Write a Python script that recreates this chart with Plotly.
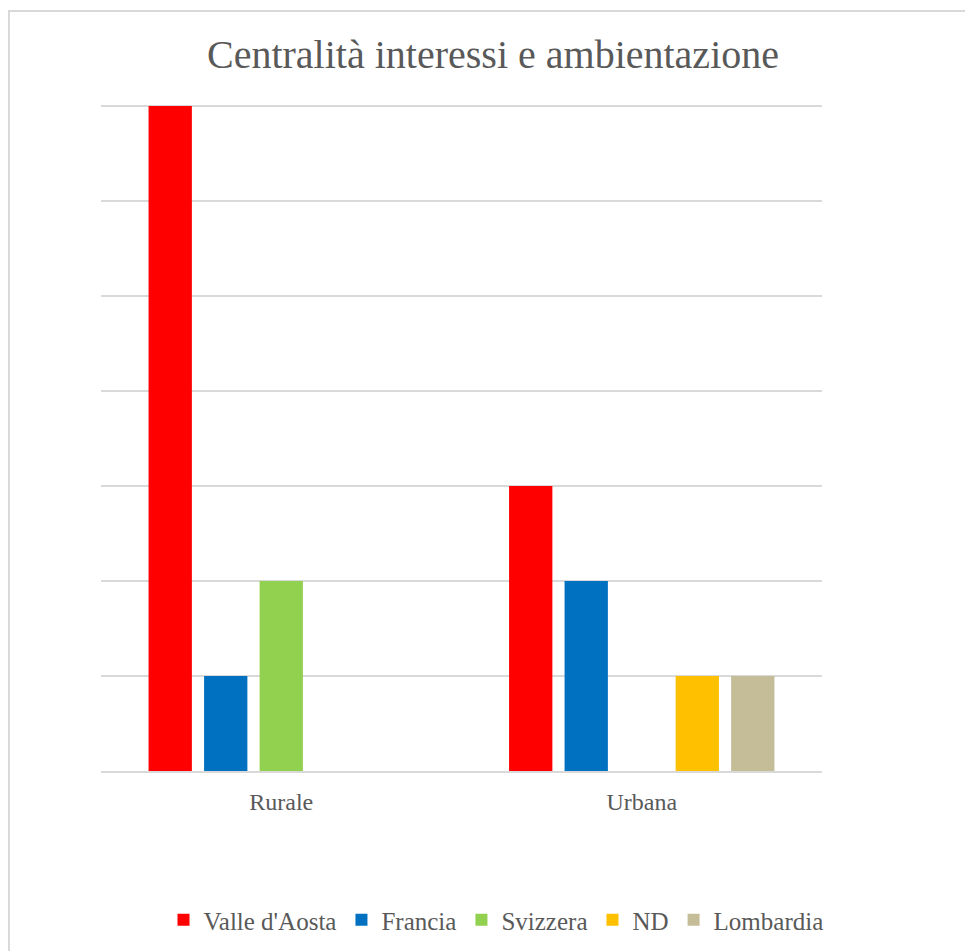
import plotly.graph_objects as go

categories = ["Rurale", "Urbana"]
series_names = ["Valle d'Aosta", "Francia", "Svizzera", "ND", "Lombardia"]
valle_daosta = [7, 3]
francia = [1, 2]
svizzera = [2, 0]
nd = [0, 1]
lombardia = [0, 1]
series_values = [valle_daosta, francia, svizzera, nd, lombardia]
series_colors = ["#FF0000", "#0070C0", "#92D050", "#FFC000", "#C4BD97"]

FONT = "Liberation Serif"
TEXT = "#595959"
GRID = "#D9D9D9"

W, H = 965, 951
Y_MAX = 7.02
L, R, B = 101, 143, 180
T = 106 - round((Y_MAX - 7) * 95)
plot_w = W - L - R
plot_h = H - T - B


def px_to_paper_x(px):
    return (px - L) / plot_w


def px_to_paper_y(py):
    return (H - B - py) / plot_h


fig = go.Figure()
for name, vals, col in zip(series_names, series_values, series_colors):
    fig.add_trace(go.Bar(x=categories, y=vals, name=name, marker_color=col,
                         marker_line_width=0))

fig.update_layout(
    width=W, height=H,
    margin=dict(l=L, r=R, t=T, b=B, pad=0, autoexpand=False),
    paper_bgcolor="white", plot_bgcolor="white",
    barmode="group", bargap=0.23, bargroupgap=0.22,
    font=dict(family=FONT, color=TEXT),
    title=dict(text="Centralità interessi e ambientazione",
               font=dict(family=FONT, size=40, color=TEXT),
               xref="paper", x=px_to_paper_x(493), xanchor="center",
               yref="container", y=1 - 54 / H, yanchor="middle"),
    legend=dict(orientation="h", x=px_to_paper_x(496), xanchor="center",
                y=px_to_paper_y(920), yanchor="middle",
                font=dict(family=FONT, size=25, color=TEXT),
                itemwidth=30, tracegroupgap=0),
    showlegend=True,
    xaxis=dict(showgrid=False, showline=True, linecolor=GRID, linewidth=2,
               ticks="", ticklabelstandoff=8, automargin=False,
               tickfont=dict(family=FONT, size=24, color=TEXT)),
    yaxis=dict(range=[0, Y_MAX], dtick=1, showticklabels=False, showgrid=True,
               gridcolor=GRID, gridwidth=2, zeroline=False, showline=False,
               automargin=False),
    shapes=[dict(type="rect", xref="paper", yref="paper",
                 x0=px_to_paper_x(9), x1=px_to_paper_x(966),
                 y0=px_to_paper_y(970), y1=px_to_paper_y(11),
                 line=dict(color=GRID, width=2), fillcolor="rgba(0,0,0,0)",
                 layer="below")],
)

fig.write_html("out.html")
